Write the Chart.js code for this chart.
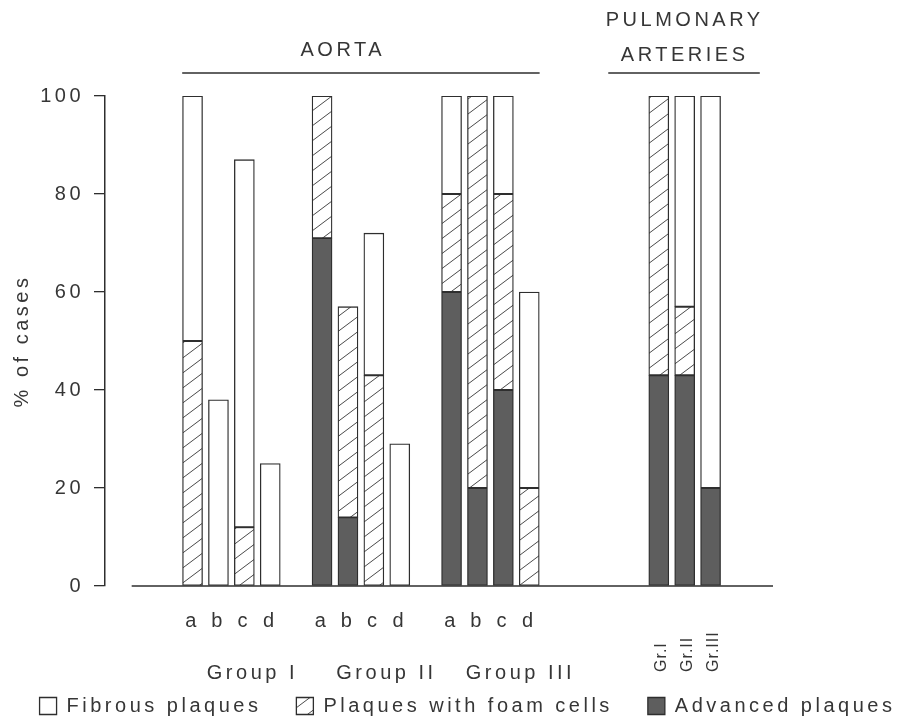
<!DOCTYPE html>
<html>
<head>
<meta charset="utf-8">
<title>Plaques - aorta and pulmonary arteries</title>
<script src="https://cdn.jsdelivr.net/npm/chart.js@4"></script>
<style>
  html, body { margin: 0; padding: 0; background: #fff; }
  #wrap { width: 908px; height: 721px; }
</style>
</head>
<body>
<div id="wrap"><canvas id="chart" width="908" height="721"></canvas></div>
<script>
// Categories
const aortaGroups = ['Group I', 'Group II', 'Group III'];
const aortaBars = ['a', 'b', 'c', 'd'];
const pulmonaryBars = ['Gr.I', 'Gr.II', 'Gr.III'];

// % of cases: Group I a-d, Group II a-d, Group III a-d, then pulmonary Gr.I-III
const fibrous   = [50, 38, 75, 25,   0,  0, 29, 29,  20,  0, 20, 40,   0, 43, 80];
const foamCells = [50,  0, 12,  0,  29, 43, 43,  0,  20, 80, 40, 20,  57, 14,  0];
const advanced  = [ 0,  0,  0,  0,  71, 14,  0,  0,  60, 20, 40,  0,  43, 43, 20];

const yTicks = [0, 20, 40, 60, 80, 100];

// Estilos
const FONT = "'Liberation Sans', Arial, sans-serif";
const TEXT = '#363636';
const LINE = '#2e2e2e';
const SPACING = '3.5px';

// Posiciones de las barras (una ranura por barra, una vacia entre grupos)
const slotsPerGroup = aortaBars.length + 1;
const pulmonaryStart = aortaGroups.length * slotsPerGroup + 3;
const xPos = [];
const xLabels = {};
aortaGroups.forEach((g, gi) => {
    aortaBars.forEach((b, bi) => {
        const x = gi * slotsPerGroup + bi;
        xPos.push(x);
        xLabels[x] = b;
    });
});
pulmonaryBars.forEach((p, pi) => xPos.push(pulmonaryStart + pi));

function series(values) {
    return values.map((v, i) => ({ x: xPos[i], y: v === 0 ? null : v }));
}

// Trama rayada
function makeHatch() {
    const w = 20, h = 15;
    const c = document.createElement('canvas');
    c.width = w; c.height = h;
    const g = c.getContext('2d');
    g.fillStyle = '#fff';
    g.fillRect(0, 0, w, h);
    g.strokeStyle = '#4a4a4a';
    g.lineWidth = 1;
    for (let k = -1; k <= 1; k++) {
        g.beginPath();
        g.moveTo(k * w - 2, h + 1.5);
        g.lineTo(k * w + w + 2, -1.5);
        g.stroke();
    }
    return g.createPattern(c, 'repeat');
}

const annotations = {
    id: 'annotations',
    beforeUpdate(chart) { chart.ctx.letterSpacing = SPACING; },
    beforeDraw(chart) { chart.ctx.letterSpacing = SPACING; },
    afterDraw(chart) {
        const { ctx, chartArea, scales: { x, y } } = chart;
        const line = (x1, y1, x2, y2, w) => {
            ctx.lineWidth = w;
            ctx.beginPath();
            ctx.moveTo(x1, y1);
            ctx.lineTo(x2, y2);
            ctx.stroke();
        };
        ctx.save();
        ctx.strokeStyle = LINE;
        ctx.fillStyle = TEXT;
        ctx.letterSpacing = SPACING;
        ctx.font = `20px ${FONT}`;
        ctx.textBaseline = 'middle';

        // Linea base
        const y0 = y.getPixelForValue(0);
        line(x.getPixelForValue(-2.35), y0, chartArea.right, y0, 1.5);

        // Cabeceras
        const lastAorta = xPos[aortaGroups.length * aortaBars.length - 1];
        const headY = chartArea.top - 23;
        line(x.getPixelForValue(-0.4), headY, x.getPixelForValue(lastAorta + 0.4), headY, 1.5);
        ctx.textAlign = 'center';
        ctx.fillText('AORTA', x.getPixelForValue(5.8), chartArea.top - 46);

        const pMid = pulmonaryStart + 1;
        line(x.getPixelForValue(pMid - 2.95), headY, x.getPixelForValue(pMid + 2.9), headY, 1.5);
        ctx.fillText('PULMONARY', x.getPixelForValue(pMid), chartArea.top - 76);
        ctx.fillText('ARTERIES', x.getPixelForValue(pMid), chartArea.top - 41);

        // Etiquetas de grupo
        ctx.textAlign = 'left';
        aortaGroups.forEach((g, gi) => {
            ctx.fillText(g, x.getPixelForValue(gi * slotsPerGroup + 0.55), y0 + 87);
        });

        // Etiquetas pulmonares verticales
        ctx.font = `16px ${FONT}`;
        ctx.letterSpacing = '1px';
        pulmonaryBars.forEach((p, pi) => {
            ctx.save();
            ctx.translate(x.getPixelForValue(pulmonaryStart + pi) + 3, y0 + 86);
            ctx.rotate(-Math.PI / 2);
            ctx.textAlign = 'left';
            ctx.fillText(p, 0, 0);
            ctx.restore();
        });
        ctx.restore();
        ctx.letterSpacing = SPACING;
    }
};

const font = { family: FONT, size: 20 };
const barStyle = { borderColor: LINE, borderWidth: 1.3, borderSkipped: false, barThickness: 20 };

const chart = new Chart(document.getElementById('chart'), {
    type: 'bar',
    data: {
        datasets: [
            { label: 'Advanced plaques', data: series(advanced), backgroundColor: '#5e5e5e', ...barStyle },
            { label: 'Plaques with foam cells', data: series(foamCells), backgroundColor: makeHatch(), ...barStyle },
            { label: 'Fibrous plaques', data: series(fibrous), backgroundColor: '#ffffff', ...barStyle }
        ]
    },
    options: {
        responsive: false,
        animation: false,
        events: [],
        layout: { padding: { top: 96, left: -5, right: -32, bottom: -5 } },
        plugins: {
            tooltip: { enabled: false },
            legend: {
                position: 'bottom',
                reverse: true,
                labels: {
                    boxWidth: 17,
                    boxHeight: 17,
                    padding: 35,
                    color: TEXT,
                    font
                }
            }
        },
        scales: {
            x: {
                type: 'linear',
                stacked: true,
                offset: false,
                min: -3.38,
                max: 22.41,
                afterBuildTicks: s => { s.ticks = Object.keys(xLabels).map(v => ({ value: Number(v) })); },
                afterFit: s => { s.height = 75; },
                grid: { display: false, drawTicks: false },
                border: { display: false },
                ticks: {
                    autoSkip: false,
                    maxRotation: 0,
                    padding: 23,
                    color: TEXT,
                    font,
                    callback: v => xLabels[v]
                }
            },
            y: {
                stacked: true,
                min: 0,
                max: 100,
                afterBuildTicks: s => { s.ticks = yTicks.map(v => ({ value: v })); },
                afterFit: s => { s.width = 110; },
                grid: { drawOnChartArea: false, drawTicks: true, tickLength: 11, color: LINE, lineWidth: 1.3 },
                border: { display: true, color: LINE, width: 1.5 },
                ticks: { padding: 10, color: TEXT, font },
                title: {
                    display: true,
                    text: '% of cases',
                    color: TEXT,
                    font,
                    padding: { top: 15, bottom: 0 }
                }
            },
            pad: {
                position: 'right',
                display: true,
                grid: { display: false },
                border: { display: false },
                ticks: { display: false },
                afterFit: s => { s.width = 908 - 773 + 32; }
            }
        }
    },
    plugins: [annotations]
});
</script>
</body>
</html>
